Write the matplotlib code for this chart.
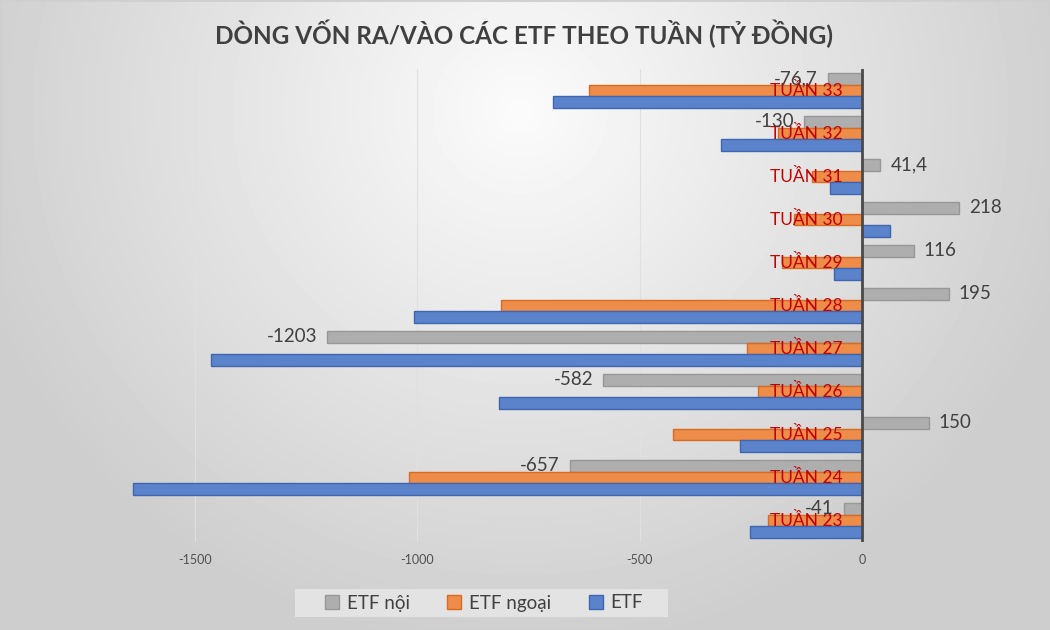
import numpy as np
import matplotlib
matplotlib.use("Agg")
import matplotlib.pyplot as plt
from matplotlib.patches import Rectangle
from matplotlib import transforms

plt.rcParams['font.family'] = ['Lato', 'DejaVu Sans']

weeks = ["TUẦN 23", "TUẦN 24", "TUẦN 25", "TUẦN 26", "TUẦN 27", "TUẦN 28",
         "TUẦN 29", "TUẦN 30", "TUẦN 31", "TUẦN 32", "TUẦN 33"]
etf_noi = [-41, -657, 150, -582, -1203, 195, 116, 218, 41.4, -130, -76.7]
etf_ngoai = [-212, -1020, -424, -233, -258, -812, -179, -154, -113, -190, -615]
etf_total = [-252, -1639, -274, -817, -1464, -1007, -63, 64, -72, -318, -694]
noi_labels = ["-41", "-657", "150", "-582", "-1203", "195", "116", "218", "41,4", "-130", "-76,7"]
xticks = [-1500, -1000, -500, 0]

W, H = 1050, 630
fig = plt.figure(figsize=(W / 100, H / 100), dpi=100)

# background radial gradient
bg = fig.add_axes([0, 0, 1, 1], zorder=-10)
yy, xx = np.mgrid[0:H, 0:W]
r = np.sqrt((xx - 520) ** 2 + ((yy - 110) * 1.05) ** 2)
v = np.clip(251 - 43 * (r / 540), 206, 251) / 255.0
bg.imshow(v, cmap='gray', vmin=0, vmax=1, aspect='auto', extent=[0, 1, 0, 1], origin='upper')
bg.set_axis_off()
fig.add_artist(Rectangle((0, 0), 1, 1, transform=fig.transFigure, fill=False,
                         edgecolor='#cfcfcf', lw=2))

# legend background box
fig.add_artist(Rectangle((295 / W, 1 - 617 / H), (668 - 295) / W, 28 / H,
                         transform=fig.transFigure, facecolor='#e3e3e3', edgecolor='none', zorder=-5))

# main axes: zero at x=862px, 500 units = 222.3px
zero_px, scale = 862.0, 222.3 / 500
xmin = (0 - zero_px) / scale
xmax = (W - zero_px) / scale
ax = fig.add_axes([0, 1 - 542 / H, 1, (542 - 69) / H])
ax.set_facecolor('none')
ax.set_xlim(xmin, xmax)
ax.set_ylim(-0.5, len(weeks) - 0.5)

y = np.arange(len(weeks))
h = 0.272
ax.barh(y + h, etf_noi, height=h, color='#AEAEAE', edgecolor='#979797', lw=1, zorder=3, label='ETF nội')
ax.barh(y, etf_ngoai, height=h, color='#EE8C4A', edgecolor='#D86A22', lw=1, zorder=3, label='ETF ngoại')
ax.barh(y - h, etf_total, height=h, color='#5B83CB', edgecolor='#3E66B0', lw=1, zorder=3, label='ETF')

for s in ax.spines.values():
    s.set_visible(False)
ax.axvline(0, color='#4a4a4a', lw=2, zorder=5)
for t in xticks[:-1]:
    ax.axvline(t, color='#e0e0e0', lw=0.8, zorder=1)

ax.set_yticks([])
ax.set_xticks(xticks)
ax.tick_params(axis='x', length=0, pad=9, labelsize=9, labelcolor='#505050')
ax.set_xticklabels([str(t) for t in xticks])

# category labels (red) left of the axis
off_left = transforms.offset_copy(ax.transData, fig=fig, x=-19, y=0, units='dots')
for i, w in enumerate(weeks):
    ax.text(0, y[i] - 0.01, w, transform=off_left, ha='right', va='center',
            color='#C00000', fontsize=12.5, zorder=6)

# data labels for ETF nội
for i, (val, lab) in enumerate(zip(etf_noi, noi_labels)):
    if val >= 0:
        tr = transforms.offset_copy(ax.transData, fig=fig, x=10, y=0, units='dots')
        ha = 'left'
    else:
        tr = transforms.offset_copy(ax.transData, fig=fig, x=-10, y=0, units='dots')
        ha = 'right'
    ax.text(val, y[i] + h, lab, transform=tr, ha=ha, va='center',
            color='#404040', fontsize=13.5, zorder=6)

fig.text(524 / W, 1 - 34 / H, "DÒNG VỐN RA/VÀO CÁC ETF THEO TUẦN (TỶ ĐỒNG)",
         ha='center', va='center', fontsize=17.5, fontweight='bold', color='#404040')

leg = ax.legend(loc='center', bbox_to_anchor=(484 / W, (H - 603) / H), bbox_transform=fig.transFigure,
                ncol=3, frameon=False, fontsize=13.5, handlelength=0.75, handleheight=0.75,
                columnspacing=2.0, handletextpad=0.4, borderpad=0.3)
for t in leg.get_texts():
    t.set_color('#404040')

fig.savefig('out.png', dpi=100)
